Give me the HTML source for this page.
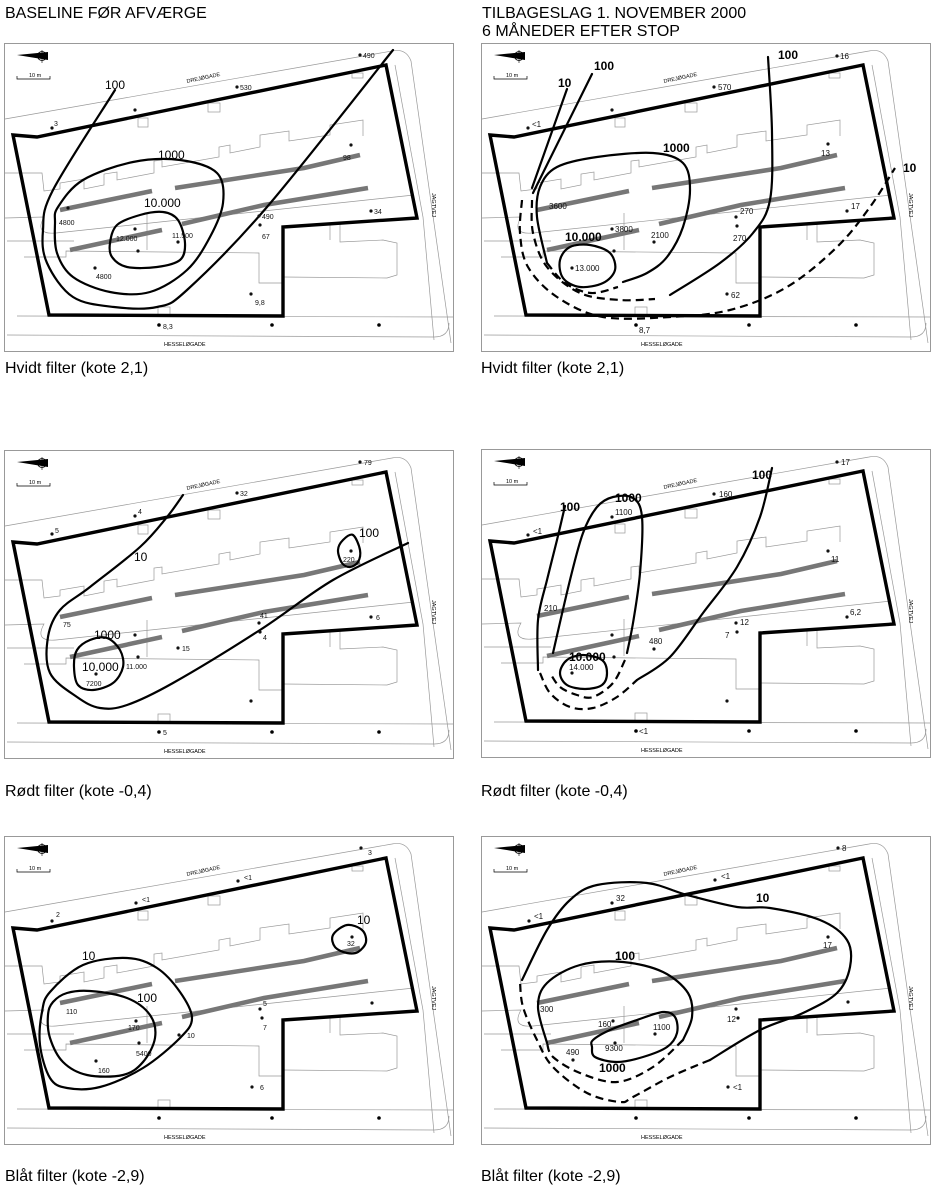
<!DOCTYPE html>
<html><head><meta charset="utf-8"><style>
html,body{margin:0;padding:0;background:#fff;}
svg{display:block;font-family:"Liberation Sans",Arial,sans-serif;}
.b{fill:none;stroke:#000;stroke-width:3.4;stroke-linejoin:miter}
.c{fill:none;stroke:#000;stroke-width:2.2;stroke-linejoin:round;stroke-linecap:round}
.d{fill:none;stroke:#000;stroke-width:2.2;stroke-dasharray:8 5;stroke-linejoin:round}
.t{fill:none;stroke:#999;stroke-width:0.7}
.g{fill:none;stroke:#777;stroke-width:4.5}
.s{font-size:7px;fill:#111}
.m{font-size:8px;fill:#111}
.l{font-size:12px;fill:#000}
.lb{font-size:12px;font-weight:bold;fill:#000}
.st{font-size:5.5px;fill:#000}
.h{font-size:16px;fill:#000}
</style></head><body>
<svg id="S" width="934" height="1191" viewBox="0 0 934 1191">
<defs>
<g id="base">
<rect x="0.5" y="0.5" width="449" height="308" fill="#fff" stroke="#999" stroke-width="1"/>
<polygon points="13,12 44,9 44,17" fill="#000"/>
<circle cx="38" cy="13" r="4.5" fill="none" stroke="#000" stroke-width="0.8"/>
<line x1="38" y1="7" x2="38" y2="20" stroke="#000" stroke-width="0.6"/>
<polyline points="13,33 13,36 46,36 46,33" fill="none" stroke="#000" stroke-width="0.7"/>
<path class="t" d="M1,76 L388,8 Q402,5 407,18 L447,300"/>
<path class="t" d="M391,22 L419,174 L430,297"/>
<path class="t" d="M1,130 L38,130 L40,148 L56,146 L56,140 L80,136 L80,146 L100,142 L100,131 L113,129 L113,137 L150,130 L150,118 L158,117 L158,124 L215,114 L215,104 L226,102 L226,110 L256,104 L256,92 L285,88 L285,98 L326,92 L326,82 L359,77 L359,93"/>
<path class="t" d="M1,175 L40,174 Q30,192 52,190 L410,152"/>
<path class="t" d="M3,198 L70,198 M143,170 L143,207 M20,214 L62,214 L62,208 L255,210 L255,240 L279,240"/>
<path class="t" d="M326,180 L326,197 M336,180 L336,199 L379,197 L393,200 L393,232 L383,235 L279,234"/>
<path class="t" d="M13,273 L449,274 M3,292 L430,294 Q445,294 445,280"/>
<rect class="t" x="134" y="75" width="10" height="9"/>
<rect class="t" x="204" y="60" width="12" height="9"/>
<rect class="t" x="348" y="30" width="11" height="5"/>
<rect class="t" x="154" y="264" width="12" height="8"/>
<path class="g" d="M56,167 L148,148 M171,145 L300,125 L356,112 M66,207 L158,187 M178,181 L260,162 L364,145"/>
<circle cx="155" cy="282" r="1.8"/><circle cx="268" cy="282" r="1.8"/><circle cx="375" cy="282" r="1.8"/>
<polygon class="b" points="9,92 33,94 382,22 413,175 279,184 279,273 45,272"/>
</g>
</defs>

<text class="h" x="5" y="18">BASELINE FØR AFVÆRGE</text>
<text class="h" x="482" y="18">TILBAGESLAG 1. NOVEMBER 2000</text>
<text class="h" x="482" y="36">6 MÅNEDER EFTER STOP</text>
<text class="h" x="5" y="373">Hvidt filter (kote 2,1)</text>
<text class="h" x="481" y="373">Hvidt filter (kote 2,1)</text>
<text class="h" x="5" y="796">Rødt filter (kote -0,4)</text>
<text class="h" x="481" y="796">Rødt filter (kote -0,4)</text>
<text class="h" x="5" y="1181">Blåt filter (kote -2,9)</text>
<text class="h" x="481" y="1181">Blåt filter (kote -2,9)</text>

<!-- TL -->
<g transform="translate(4,43)">
<use href="#base"/>
<text class="st" x="25" y="34">10 m</text>
<text class="st" x="183" y="40" transform="rotate(-12 183 40)">DREJØGADE</text>
<text class="st" x="160" y="303">HESSELØGADE</text>
<text class="st" x="428" y="150" transform="rotate(90 428 150)">JAGTVEJ</text>
<polyline class="c" points="111,47 49,147 39,187 43,220 69,254 110,264 153,264 183,247 263,164 389,7"/>
<polygon class="c" points="54,164 79,137 129,119 176,117 213,130 219,160 206,194 183,227 146,249 106,249 69,234 53,210 51,180"/>
<polygon class="c" points="106,200 113,182 136,172 159,169 174,177 181,200 176,217 153,224 123,224 108,214"/>
<text class="l" x="101" y="46">100</text>
<text class="l" x="154" y="116">1000</text>
<text class="l" x="140" y="164">10.000</text>
<g class="s">
<circle cx="356" cy="12" r="1.6"/><text x="359" y="15">490</text>
<circle cx="233" cy="44" r="1.6"/><text x="236" y="47">530</text>
<circle cx="131" cy="67" r="1.6"/>
<circle cx="48" cy="85" r="1.6"/><text x="50" y="83">3</text>
<circle cx="347" cy="102" r="1.6"/><text x="339" y="117">98</text>
<circle cx="367" cy="168" r="1.6"/><text x="370" y="171">34</text>
<circle cx="255" cy="173" r="1.6"/><text x="258" y="176">490</text>
<circle cx="256" cy="182" r="1.6"/><text x="258" y="196">67</text>
<circle cx="64" cy="165" r="1.6"/><text x="55" y="182">4800</text>
<circle cx="131" cy="186" r="1.6"/><text x="112" y="198">12.000</text>
<circle cx="134" cy="208" r="1.6"/>
<circle cx="174" cy="199" r="1.6"/><text x="168" y="195">11.500</text>
<circle cx="91" cy="225" r="1.6"/><text x="92" y="236">4800</text>
<circle cx="247" cy="251" r="1.6"/><text x="251" y="262">9,8</text>
<text x="159" y="286">8,3</text>
</g>
</g>

<!-- TR -->
<g transform="translate(481,43)">
<use href="#base"/>
<text class="st" x="25" y="34">10 m</text>
<text class="st" x="183" y="40" transform="rotate(-12 183 40)">DREJØGADE</text>
<text class="st" x="160" y="303">HESSELØGADE</text>
<text class="st" x="428" y="150" transform="rotate(90 428 150)">JAGTVEJ</text>
<polyline class="c" points="86,46 51,145"/>
<polyline class="d" points="41,157 39,190 47,224 76,254 122,274 189,274 249,267 306,244 356,204 389,164 414,125"/>
<polyline class="c" points="111,31 52,150"/>
<polyline class="d" points="51,157 52,190 66,224 99,250 139,257 174,256"/>
<polyline class="c" points="189,252 239,220 272,190 289,157 291,90 287,14"/>
<polyline class="c" points="66,220 56,174 59,144 76,124 116,114 172,110 202,120 209,147 202,184 186,214 166,230 142,239"/>
<polyline class="d" points="66,220 84,240 110,250 137,244"/>
<polygon class="c" points="79,217 89,204 109,202 129,210 134,227 122,240 99,244 82,235"/>
<text class="lb" x="77" y="44">10</text>
<text class="lb" x="113" y="27">100</text>
<text class="lb" x="297" y="16">100</text>
<text class="lb" x="182" y="109">1000</text>
<text class="lb" x="422" y="129">10</text>
<text class="lb" x="84" y="198">10.000</text>
<g class="m">
<circle cx="356" cy="13" r="1.6"/><text x="359" y="16">16</text>
<circle cx="233" cy="44" r="1.6"/><text x="237" y="47">570</text>
<circle cx="131" cy="67" r="1.6"/>
<circle cx="47" cy="85" r="1.6"/><text x="51" y="84">&lt;1</text>
<circle cx="347" cy="101" r="1.6"/><text x="340" y="113">13</text>
<text x="68" y="166">3600</text>
<circle cx="131" cy="186" r="1.6"/><text x="134" y="189">3800</text>
<circle cx="133" cy="208" r="1.6"/>
<circle cx="173" cy="199" r="1.6"/><text x="170" y="195">2100</text>
<circle cx="255" cy="174" r="1.6"/><text x="259" y="171">270</text>
<circle cx="256" cy="183" r="1.6"/><text x="252" y="198">270</text>
<circle cx="366" cy="168" r="1.6"/><text x="370" y="166">17</text>
<circle cx="91" cy="225" r="1.6"/><text x="94" y="228">13.000</text>
<circle cx="246" cy="251" r="1.6"/><text x="250" y="255">62</text>
<text x="158" y="290">8,7</text>
</g>
</g>

<!-- ML -->
<g transform="translate(4,450)">
<use href="#base"/>
<text class="st" x="25" y="34">10 m</text>
<text class="st" x="183" y="40" transform="rotate(-12 183 40)">DREJØGADE</text>
<text class="st" x="160" y="303">HESSELØGADE</text>
<text class="st" x="428" y="150" transform="rotate(90 428 150)">JAGTVEJ</text>
<polyline class="c" points="179,45 163,67 136,97 86,137 56,160 44,187 46,223 73,247 96,258 123,255 169,233 256,180 329,130 404,93"/>
<polygon class="c" points="73,200 86,190 103,188 116,200 119,217 109,233 89,240 74,235 70,217"/>
<polygon class="c" points="339,90 349,85 356,100 354,112 346,117 338,113 334,100"/>
<text class="l" x="130" y="111">10</text>
<text class="l" x="90" y="189">1000</text>
<text class="l" x="78" y="221">10.000</text>
<text class="l" x="355" y="87">100</text>
<g class="s">
<circle cx="356" cy="12" r="1.6"/><text x="360" y="15">79</text>
<circle cx="233" cy="43" r="1.6"/><text x="236" y="46">32</text>
<circle cx="131" cy="66" r="1.6"/><text x="134" y="64">4</text>
<circle cx="48" cy="84" r="1.6"/><text x="51" y="83">5</text>
<circle cx="347" cy="101" r="1.6"/><text x="339" y="112">220</text>
<circle cx="367" cy="167" r="1.6"/><text x="372" y="170">6</text>
<circle cx="255" cy="173" r="1.6"/><text x="256" y="168">41</text>
<circle cx="256" cy="182" r="1.6"/><text x="259" y="190">4</text>
<text x="59" y="177">75</text>
<circle cx="131" cy="185" r="1.6"/>
<circle cx="174" cy="198" r="1.6"/><text x="178" y="201">15</text>
<circle cx="134" cy="207" r="1.6"/><text x="122" y="219">11.000</text>
<circle cx="92" cy="224" r="1.6"/><text x="82" y="236">7200</text>
<circle cx="247" cy="251" r="1.6"/>
<text x="159" y="285">5</text>
</g>
</g>

<!-- MR -->
<g transform="translate(481,449)">
<use href="#base"/>
<text class="st" x="25" y="34">10 m</text>
<text class="st" x="183" y="40" transform="rotate(-12 183 40)">DREJØGADE</text>
<text class="st" x="160" y="303">HESSELØGADE</text>
<text class="st" x="428" y="150" transform="rotate(90 428 150)">JAGTVEJ</text>
<polyline class="c" points="84,57 76,91 66,131 57,171 57,221"/>
<polyline class="d" points="59,224 69,244 89,258 112,259 136,248 156,231"/>
<polyline class="c" points="156,231 189,208 222,164 256,118 279,68 291,19"/>
<polyline class="c" points="72,204 89,131 102,84 116,58 132,48 152,49 161,68 159,124 152,174 146,204"/>
<polyline class="d" points="144,211 132,234 112,248 96,246 79,238 69,224"/>
<polygon class="c" points="79,224 86,211 102,206 121,211 126,224 121,236 104,240 86,236"/>
<text class="lb" x="79" y="62">100</text>
<text class="lb" x="134" y="53">1000</text>
<text class="lb" x="271" y="30">100</text>
<text class="lb" x="88" y="212">10.000</text>
<g class="m">
<circle cx="356" cy="13" r="1.6"/><text x="360" y="16">17</text>
<circle cx="233" cy="45" r="1.6"/><text x="238" y="48">160</text>
<circle cx="131" cy="68" r="1.6"/><text x="134" y="66">1100</text>
<circle cx="47" cy="86" r="1.6"/><text x="52" y="85">&lt;1</text>
<circle cx="347" cy="102" r="1.6"/><text x="350" y="113">11</text>
<text x="63" y="162">210</text>
<circle cx="366" cy="168" r="1.6"/><text x="369" y="166">6,2</text>
<circle cx="255" cy="174" r="1.6"/><text x="259" y="176">12</text>
<circle cx="256" cy="183" r="1.6"/><text x="244" y="189">7</text>
<circle cx="131" cy="186" r="1.6"/>
<circle cx="173" cy="200" r="1.6"/><text x="168" y="195">480</text>
<circle cx="133" cy="208" r="1.6"/>
<circle cx="91" cy="224" r="1.6"/><text x="88" y="221">14.000</text>
<circle cx="246" cy="252" r="1.6"/>
<text x="158" y="285">&lt;1</text>
</g>
</g>

<!-- BL -->
<g transform="translate(4,836)">
<use href="#base"/>
<text class="st" x="25" y="34">10 m</text>
<text class="st" x="183" y="40" transform="rotate(-12 183 40)">DREJØGADE</text>
<text class="st" x="160" y="303">HESSELØGADE</text>
<text class="st" x="428" y="150" transform="rotate(90 428 150)">JAGTVEJ</text>
<polygon class="c" points="46,156 79,129 123,122 153,132 176,156 188,182 176,202 139,232 96,251 63,252 46,242 36,209 38,176"/>
<polygon class="c" points="49,166 63,157 86,155 123,162 146,179 151,202 139,226 119,239 83,239 59,226 46,202 44,179"/>
<polygon class="c" points="329,99 343,89 358,94 362,106 354,116 343,117 331,111"/>
<text class="l" x="78" y="124">10</text>
<text class="l" x="133" y="166">100</text>
<text class="l" x="353" y="88">10</text>
<g class="s">
<circle cx="357" cy="12" r="1.6"/><text x="364" y="19">3</text>
<circle cx="234" cy="45" r="1.6"/><text x="240" y="44">&lt;1</text>
<circle cx="132" cy="67" r="1.6"/><text x="138" y="66">&lt;1</text>
<circle cx="48" cy="85" r="1.6"/><text x="52" y="81">2</text>
<circle cx="348" cy="101" r="1.6"/><text x="343" y="110">32</text>
<circle cx="368" cy="167" r="1.6"/>
<circle cx="256" cy="173" r="1.6"/><text x="259" y="170">5</text>
<circle cx="258" cy="182" r="1.6"/><text x="259" y="194">7</text>
<text x="62" y="178">110</text>
<circle cx="132" cy="185" r="1.6"/><text x="124" y="194">170</text>
<circle cx="175" cy="199" r="1.6"/><text x="183" y="202">10</text>
<circle cx="135" cy="207" r="1.6"/><text x="132" y="220">5400</text>
<circle cx="92" cy="225" r="1.6"/><text x="94" y="237">160</text>
<circle cx="248" cy="251" r="1.6"/><text x="256" y="254">6</text>
</g>
</g>

<!-- BR -->
<g transform="translate(481,836)">
<use href="#base"/>
<text class="st" x="25" y="34">10 m</text>
<text class="st" x="183" y="40" transform="rotate(-12 183 40)">DREJØGADE</text>
<text class="st" x="160" y="303">HESSELØGADE</text>
<text class="st" x="428" y="150" transform="rotate(90 428 150)">JAGTVEJ</text>
<polyline class="c" points="41,144 66,94 89,64 116,49 166,47 206,59 256,71 289,72 339,84 366,104 369,131 356,157 322,177 279,194 229,224"/>
<polyline class="d" points="229,224 189,241 152,261 139,266 106,257 72,231 56,204 42,171 39,146"/>
<polyline class="c" points="66,207 57,171 66,147 99,129 142,126 182,136 207,157 211,181 202,204"/>
<polyline class="d" points="202,204 172,231 136,246 99,237 72,221 66,207"/>
<polygon class="c" points="112,204 129,194 156,184 182,176 194,181 196,197 186,211 162,221 136,226 114,221 111,211"/>
<text class="lb" x="275" y="66">10</text>
<text class="lb" x="134" y="124">100</text>
<text class="lb" x="118" y="236">1000</text>
<g class="m">
<circle cx="357" cy="12" r="1.6"/><text x="361" y="15">8</text>
<circle cx="234" cy="44" r="1.6"/><text x="240" y="43">&lt;1</text>
<circle cx="131" cy="67" r="1.6"/><text x="135" y="65">32</text>
<circle cx="48" cy="85" r="1.6"/><text x="53" y="83">&lt;1</text>
<circle cx="347" cy="101" r="1.6"/><text x="342" y="112">17</text>
<circle cx="367" cy="166" r="1.6"/>
<circle cx="255" cy="173" r="1.6"/>
<circle cx="257" cy="182" r="1.6"/><text x="246" y="186">12</text>
<text x="59" y="176">300</text>
<circle cx="132" cy="185" r="1.6"/><text x="117" y="191">160</text>
<circle cx="174" cy="198" r="1.6"/><text x="172" y="194">1100</text>
<circle cx="134" cy="207" r="1.6"/><text x="124" y="215">9300</text>
<circle cx="92" cy="224" r="1.6"/><text x="85" y="219">490</text>
<circle cx="247" cy="251" r="1.6"/><text x="252" y="254">&lt;1</text>
</g>
</g>
</svg>
<script>
(function(){
var NS="http://www.w3.org/2000/svg";
var els=document.querySelectorAll("polyline.c,polygon.c,polyline.d,polygon.d");
for(var k=0;k<els.length;k++){
 var e=els[k];var closed=e.tagName.toLowerCase()==="polygon";
 var nums=e.getAttribute("points").trim().split(/[\s,]+/).map(Number);
 var p=[];for(var i=0;i<nums.length;i+=2)p.push([nums[i],nums[i+1]]);
 if(p.length<3)continue;
 var n=p.length,d="M"+p[0][0]+","+p[0][1];
 function P(i){if(closed)return p[(i+n)%n];return p[Math.max(0,Math.min(n-1,i))];}
 var segs=closed?n:n-1;
 for(var i=0;i<segs;i++){
  var p0=P(i-1),p1=P(i),p2=P(i+1),p3=P(i+2);
  var c1x=p1[0]+(p2[0]-p0[0])/6,c1y=p1[1]+(p2[1]-p0[1])/6;
  var c2x=p2[0]-(p3[0]-p1[0])/6,c2y=p2[1]-(p3[1]-p1[1])/6;
  d+=" C"+c1x.toFixed(1)+","+c1y.toFixed(1)+" "+c2x.toFixed(1)+","+c2y.toFixed(1)+" "+p2[0]+","+p2[1];
 }
 if(closed)d+="Z";
 var path=document.createElementNS(NS,"path");
 path.setAttribute("class",e.getAttribute("class"));path.setAttribute("d",d);
 e.parentNode.replaceChild(path,e);
}
})();
</script>
</body></html>
